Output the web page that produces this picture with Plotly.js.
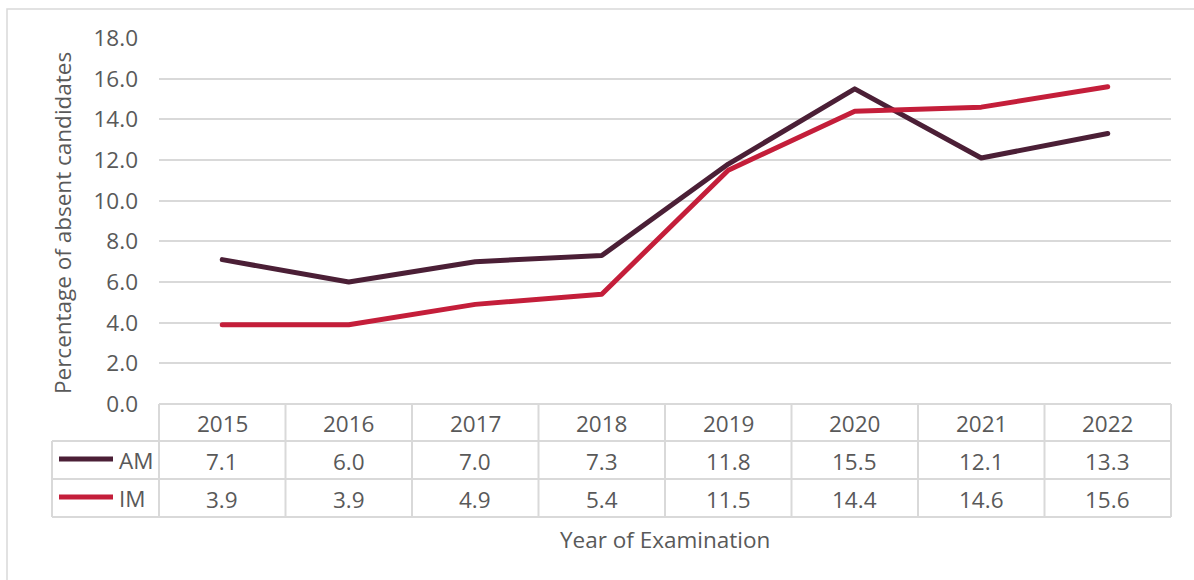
<!DOCTYPE html>
<html>
<head>
<meta charset="utf-8">
<script src="https://cdn.plot.ly/plotly-3.0.1.min.js"></script>
<style>html,body{margin:0;padding:0;background:#fff;}#chart{width:1194px;height:580px;}
path.js-line{stroke-linecap:round;stroke-linejoin:round;}</style>
</head>
<body>
<div id="chart"></div>
<script>
const years = ['2015','2016','2017','2018','2019','2020','2021','2022'];
const amValues = [7.1, 6.0, 7.0, 7.3, 11.8, 15.5, 12.1, 13.3];
const imValues = [3.9, 3.9, 4.9, 5.4, 11.5, 14.4, 14.6, 15.6];
const seriesNames = ['AM', 'IM'];
const yTitle = 'Percentage of absent candidates';
const xTitle = 'Year of Examination';

const W = 1194, H = 580;
const L = 159, R = 1171, T = 38, B = 404;
const px = x => (x - L) / (R - L);
const py = y => (B - y) / (B - T);

const amColor = '#4b1f36';
const imColor = '#c41e3a';
const gridColor = '#d9d9d9';
const textColor = '#595959';
const FONT = 'Open Sans, sans-serif';
const FS = 22.5;

const traces = [
  {x: years, y: amValues, name: seriesNames[0], type: 'scatter', mode: 'lines',
   line: {color: amColor, width: 5}},
  {x: years, y: imValues, name: seriesNames[1], type: 'scatter', mode: 'lines',
   line: {color: imColor, width: 5}}
];

const shapes = [];
const annotations = [];
const n = years.length;
const colW = (R - L) / n;
const line = (x0, y0, x1, y1, color, width) => shapes.push({
  type: 'line', xref: 'paper', yref: 'paper', x0: px(x0), y0: py(y0), x1: px(x1), y1: py(y1),
  line: {color: color, width: width}
});

// outer chart border
shapes.push({type: 'rect', xref: 'paper', yref: 'paper', x0: px(7), y0: py(9), x1: px(1210), y1: py(600),
  line: {color: gridColor, width: 1.5}, layer: 'below'});

// data table grid
const rowTop = 404, r1 = 441, r2 = 479, r3 = 517, leftX = 52;
line(L, rowTop, R, rowTop, gridColor, 2);
line(leftX, r1, R, r1, gridColor, 2);
line(leftX, r2, R, r2, gridColor, 2);
line(leftX, r3, R, r3, gridColor, 2);
line(leftX, r1, leftX, r3, gridColor, 2);
for (let k = 0; k <= n; k++) {
  const xx = L + k * colW;
  line(xx, rowTop, xx, r3, gridColor, 2);
}

// legend keys
const keyY = [(r1 + r2) / 2 - 1, (r2 + r3) / 2 - 1];
[amColor, imColor].forEach((c, i) => {
  line(59, keyY[i], 113, keyY[i], c, 5);
  annotations.push({xref: 'paper', yref: 'paper', x: px(117), y: py(keyY[i] + 1), xanchor: 'left', yanchor: 'middle',
    text: seriesNames[i], showarrow: false, font: {family: FONT, size: FS, color: textColor}});
});

// table texts
const rowCenters = [(rowTop + r1) / 2 + 1, (r1 + r2) / 2 + 1, (r2 + r3) / 2 + 1];
years.forEach((yr, i) => {
  annotations.push({xref: 'x', yref: 'paper', x: i, y: py(rowCenters[0]), xanchor: 'center', yanchor: 'middle',
    text: yr, showarrow: false, font: {family: FONT, size: FS, color: textColor}});
  annotations.push({xref: 'x', yref: 'paper', x: i, y: py(rowCenters[1]), xanchor: 'center', yanchor: 'middle',
    text: amValues[i].toFixed(1), showarrow: false, font: {family: FONT, size: FS, color: textColor}});
  annotations.push({xref: 'x', yref: 'paper', x: i, y: py(rowCenters[2]), xanchor: 'center', yanchor: 'middle',
    text: imValues[i].toFixed(1), showarrow: false, font: {family: FONT, size: FS, color: textColor}});
});

// axis titles
annotations.push({xref: 'paper', yref: 'paper', x: px(62), y: py(223), xanchor: 'center', yanchor: 'middle',
  textangle: -90, text: yTitle, showarrow: false, font: {family: FONT, size: FS, color: textColor}});
annotations.push({xref: 'paper', yref: 'paper', x: 0.5, y: py(539), xanchor: 'center', yanchor: 'middle',
  text: xTitle, showarrow: false, font: {family: FONT, size: FS, color: textColor}});

const layout = {
  width: W, height: H,
  margin: {l: L, r: W - R, t: T, b: H - B, pad: 0},
  paper_bgcolor: '#ffffff', plot_bgcolor: '#ffffff',
  showlegend: false,
  font: {family: FONT, size: FS, color: textColor},
  xaxis: {type: 'category', range: [-0.5, n - 0.5], showticklabels: false, showgrid: false,
    zeroline: false, showline: false, ticks: ''},
  yaxis: {range: [0, 18], dtick: 2, tick0: 0, tickformat: '.1f', showgrid: true, gridcolor: gridColor,
    gridwidth: 2, zeroline: false, showline: false, ticks: '', ticklabelstandoff: 20,
    tickfont: {family: FONT, size: FS, color: textColor}},
  shapes: shapes,
  annotations: annotations
};

Plotly.newPlot('chart', traces, layout, {displayModeBar: false, staticPlot: true});
</script>
</body>
</html>
